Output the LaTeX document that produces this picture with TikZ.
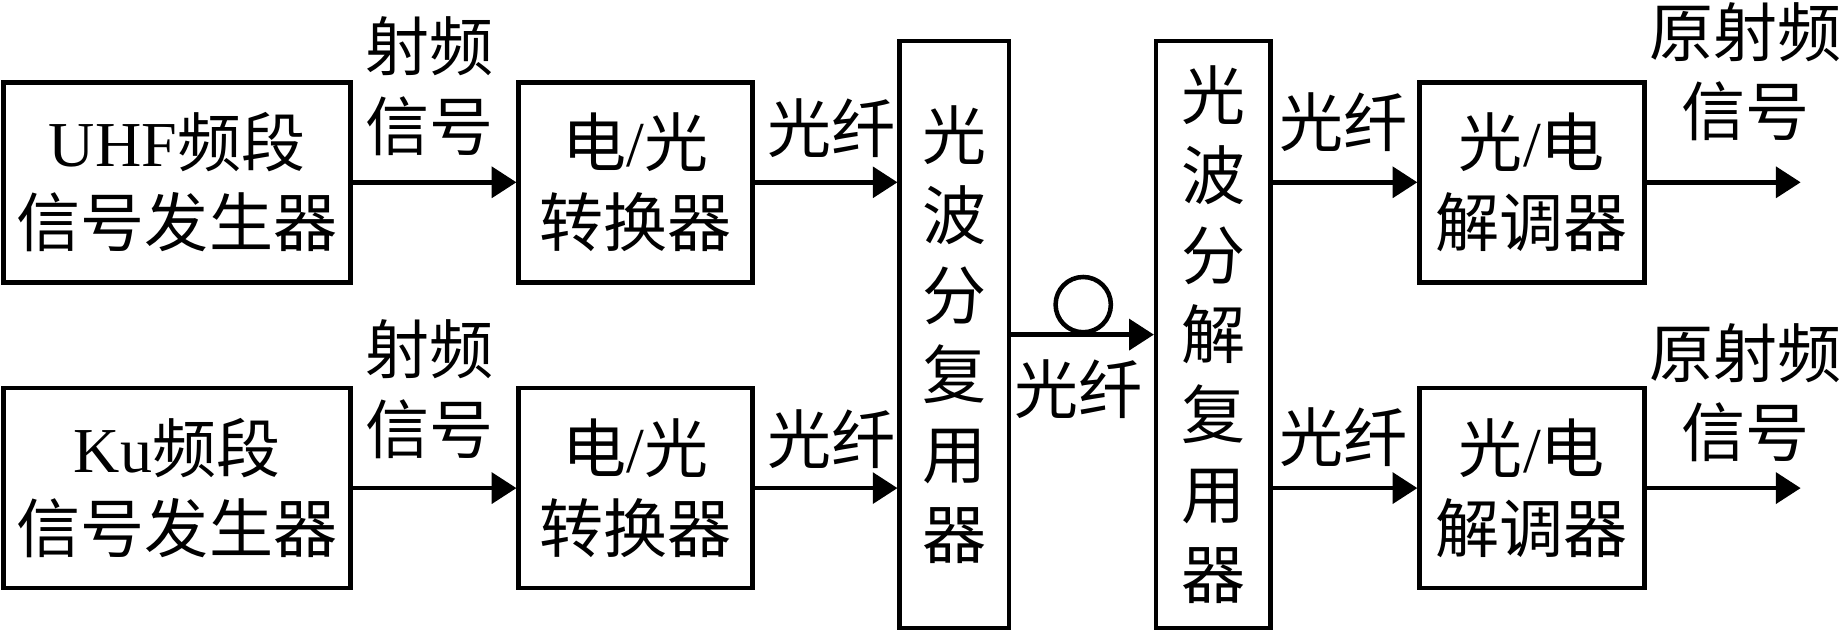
\documentclass[tikz,border=0pt]{standalone}
\usepackage{fontspec}
\setmainfont{Liberation Serif}
\newfontfamily\cjk{Noto Sans CJK SC}
\usetikzlibrary{arrows.meta}
\begin{document}
\begin{tikzpicture}[x=0.02cm,y=-0.02cm,
  txt/.style={font=\cjk\fontsize{31}{38.6}\selectfont},
  box/.style={draw, line width=2.2pt, inner sep=0pt, align=center, txt},
  lbl/.style={inner sep=0pt, align=center, txt},
  arr/.style={line width=2.2pt, -{Triangle[length=0.42cm,width=0.52cm]}}]
\useasboundingbox (0,0) rectangle (1567,537);
% boxes
\node[box, minimum width=5.9cm, minimum height=3.4cm] (uhf) at (150.5,155) {{\rmfamily UHF}频段\\信号发生器};
\node[box, minimum width=5.9cm, minimum height=3.4cm] (ku) at (150.5,415) {{\rmfamily Ku}频段\\信号发生器};
\node[box, minimum width=3.98cm, minimum height=3.4cm] (eo1) at (540.5,155) {电{\rmfamily /}光\\转换器};
\node[box, minimum width=3.98cm, minimum height=3.4cm] (eo2) at (540.5,415) {电{\rmfamily /}光\\转换器};
\node[box, minimum width=1.86cm, minimum height=9.98cm] (mux) at (811.5,284.5) {光\\波\\分\\复\\用\\器};
\node[box, minimum width=1.94cm, minimum height=9.98cm] (demux) at (1031.5,284.5) {光\\波\\分\\解\\复\\用\\器};
\node[box, minimum width=3.82cm, minimum height=3.4cm] (oe1) at (1302.5,155) {光{\rmfamily /}电\\解调器};
\node[box, minimum width=3.82cm, minimum height=3.4cm] (oe2) at (1302.5,415) {光{\rmfamily /}电\\解调器};
\node[draw, circle, line width=2.2pt, inner sep=0pt, minimum size=0.94cm] (loop) at (921,259) {};
\coordinate (out1) at (1531,155);
\coordinate (out2) at (1531,415);
% connectors
\draw[arr] (uhf.east) -- (eo1.west);
\draw[arr] (ku.east) -- (eo2.west);
\draw[arr] (eo1.east) -- (eo1.east -| mux.west);
\draw[arr] (eo2.east) -- (eo2.east -| mux.west);
\draw[arr] (mux.east) -- (demux.west);
\draw[arr] (demux.east |- oe1) -- (oe1.west);
\draw[arr] (demux.east |- oe2) -- (oe2.west);
\draw[arr] (oe1.east) -- (out1);
\draw[arr] (oe2.east) -- (out2);
% labels
\node[lbl] (rf1) at (365,73) {射频\\信号};
\node[lbl] (rf2) at (365,331) {射频\\信号};
\node[lbl] (f1) at (707,109) {光纤};
\node[lbl] (f2) at (707,373) {光纤};
\node[lbl] (fm) at (917,331) {光纤};
\node[lbl] (f3) at (1142,104) {光纤};
\node[lbl] (f4) at (1142,372) {光纤};
\node[lbl] (o1) at (1484,61) {原射频\\信号};
\node[lbl] (o2) at (1484,334) {原射频\\信号};
\end{tikzpicture}
\end{document}
